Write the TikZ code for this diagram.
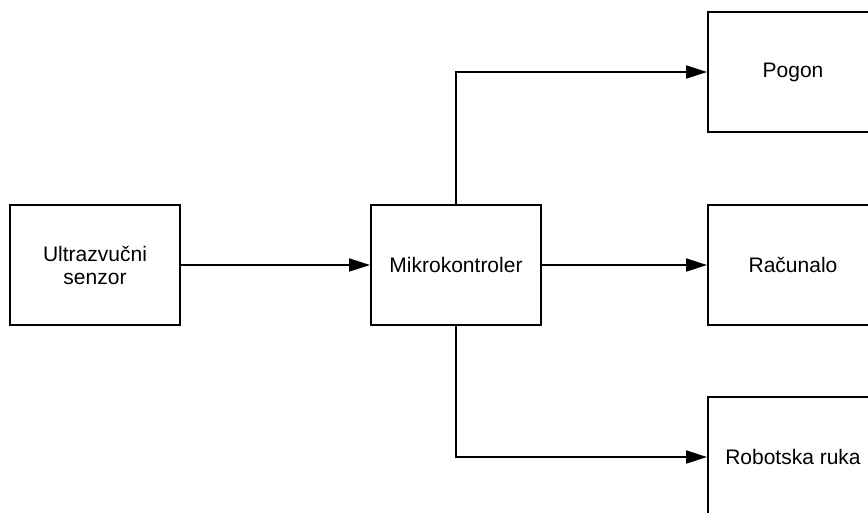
\documentclass[tikz,border=0pt]{standalone}
\usepackage{fontspec}
\setmainfont{Liberation Sans}
\usetikzlibrary{arrows.meta}
\begin{document}
\begin{tikzpicture}[x=1pt,y=-1pt,
  blockbox/.style={draw=black,line width=2pt,minimum width=170pt,minimum height=120pt,inner sep=0pt,align=center,font=\fontsize{21}{23}\selectfont,anchor=center},
  conn/.style={line width=2pt,-{Triangle[length=21pt,width=13pt]}}]
\useasboundingbox (0,0) rectangle (868,512);
\node[blockbox] (us) at (95,265) {Ultrazvučni\\senzor};
\node[blockbox] (mk) at (456,265) {Mikrokontroler};
\node[blockbox] (pg) at (793,72) {Pogon};
\node[blockbox] (rc) at (793,265) {Računalo};
\node[blockbox] (rr) at (793,457) {Robotska ruka};
\draw[conn] (us) -- (mk);
\draw[conn] (mk) -- (rc);
\draw[conn] (mk.north) |- (pg.west);
\draw[conn] (mk.south) |- (rr.west);
\end{tikzpicture}
\end{document}
